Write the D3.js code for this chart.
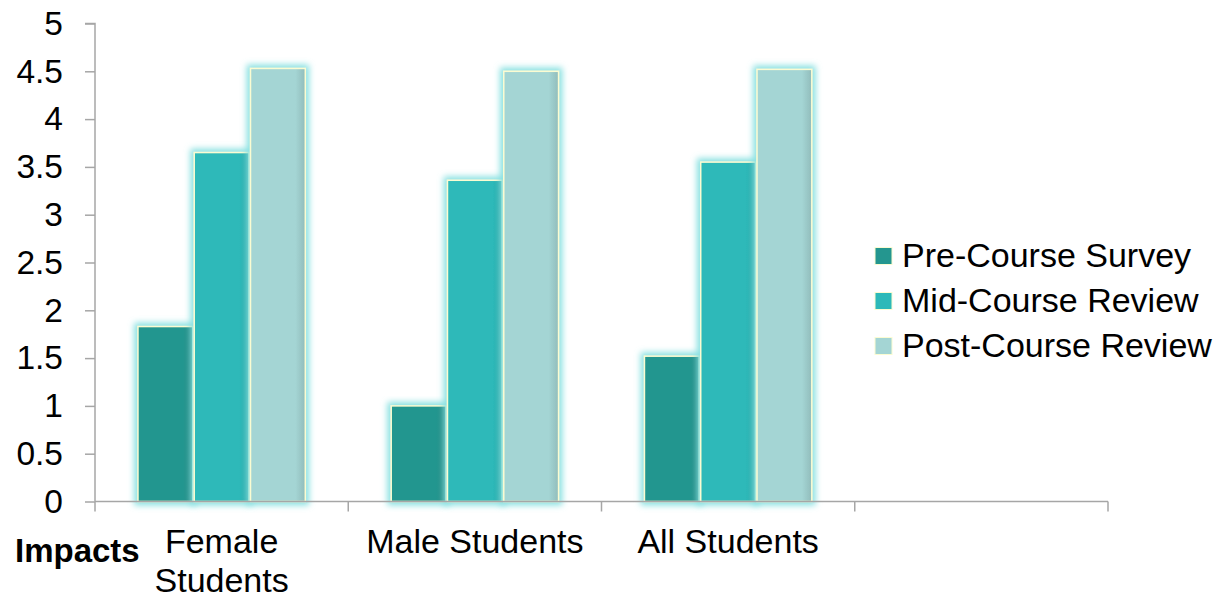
<!DOCTYPE html>
<html>
<head>
<meta charset="utf-8">
<script src="https://cdn.jsdelivr.net/npm/d3@7"></script>
<style>
  html, body { margin: 0; padding: 0; background: #fff; }
  svg { display: block; font-family: "Liberation Sans", Arial, sans-serif; }
</style>
</head>
<body>
<svg id="chart" width="1225" height="599"></svg>
<script>
// ---- data ----
const categories = ["Female Students", "Male Students", "All Students"];
const categoryLines = [["Female", "Students"], ["Male Students"], ["All Students"]];
const series = ["Pre-Course Survey", "Mid-Course Review", "Post-Course Review"];
const preCourse  = [1.83, 1.00, 1.52];
const midCourse  = [3.65, 3.36, 3.55];
const postCourse = [4.53, 4.50, 4.52];
const yTicks = [0, 0.5, 1, 1.5, 2, 2.5, 3, 3.5, 4, 4.5, 5];
const axisTitle = "Impacts";
const colors = ["#24968f", "#2db9b9", "#a4d5d4"];

const values = [preCourse, midCourse, postCourse];

(function () {
// ---- layout ----
const svg = d3.select("#chart");
const mLeft = 95, mRight = 1108, mTop = 23.5, mBottom = 501.5;

const slots = categories.concat(["__empty__"]);
const x0 = d3.scaleBand().domain(slots).range([mLeft, mRight]).paddingInner(0).paddingOuter(0);
const x1 = d3.scaleBand().domain(series).range([0, x0.bandwidth()]).paddingInner(0).paddingOuter(0.75);
const y = d3.scaleLinear().domain([0, 5]).range([mBottom, mTop]);

// defs: glow + gradients
const defs = svg.append("defs");
const f = defs.append("filter").attr("id", "glow")
  .attr("x", "-30%").attr("y", "-10%").attr("width", "160%").attr("height", "120%");
f.append("feMorphology").attr("in", "SourceAlpha").attr("operator", "dilate").attr("radius", 2.5).attr("result", "dil");
f.append("feGaussianBlur").attr("in", "dil").attr("stdDeviation", 3).attr("result", "blur");
f.append("feFlood").attr("flood-color", "#86e0e0").attr("flood-opacity", 1).attr("result", "col");
f.append("feComposite").attr("in", "col").attr("in2", "blur").attr("operator", "in").attr("result", "glowc");
const mg = f.append("feMerge");
mg.append("feMergeNode").attr("in", "glowc");
mg.append("feMergeNode").attr("in", "SourceGraphic");

colors.forEach((c, i) => {
  const g = defs.append("linearGradient").attr("id", "grad" + i)
    .attr("x1", "0").attr("x2", "1").attr("y1", "0").attr("y2", "0");
  g.append("stop").attr("offset", "0").attr("stop-color", c);
  g.append("stop").attr("offset", "0.82").attr("stop-color", c);
  g.append("stop").attr("offset", "1").attr("stop-color", d3.color(c).darker(0.35));
});

// bars
const groups = svg.append("g").selectAll("g")
  .data(categories)
  .join("g")
  .attr("transform", d => `translate(${x0(d)},0)`);

groups.selectAll("rect")
  .data((d, ci) => series.map((s, si) => ({ s, si, v: values[si][ci] })))
  .join("rect")
  .attr("x", d => x1(d.s) + 0.75)
  .attr("y", d => y(d.v))
  .attr("width", x1.bandwidth() - 1.5)
  .attr("height", d => y(0) - y(d.v))
  .attr("fill", d => `url(#grad${d.si})`)
  .attr("stroke", "#fbfcd2")
  .attr("stroke-width", 1.5)
  .attr("filter", "url(#glow)");

// y axis
const yAxis = d3.axisLeft(y).tickValues(yTicks).tickSize(10).tickPadding(22)
  .tickFormat(d => String(d));
const ya = svg.append("g").attr("transform", `translate(${mLeft},0)`).call(yAxis);
ya.select(".domain").attr("stroke", "#a6a6a6").attr("stroke-width", 1.5)
  .attr("d", `M-10,${mTop}H0V${mBottom}`);
ya.selectAll(".tick line").attr("stroke", "#a6a6a6").attr("stroke-width", 1.5);
ya.selectAll(".tick text").attr("fill", "#000").style("font-size", "33.5px")
  .attr("font-family", "Liberation Sans, Arial, sans-serif");

// x axis (ticks between categories)
const xa = svg.append("g");
xa.append("line").attr("x1", mLeft).attr("x2", mRight).attr("y1", y(0)).attr("y2", y(0))
  .attr("stroke", "#a6a6a6").attr("stroke-width", 1.5);
const edges = slots.map(s => x0(s)).concat([x0(slots[slots.length - 1]) + x0.bandwidth()]);
xa.selectAll("line.tk").data(edges).join("line").attr("class", "tk")
  .attr("x1", d => d).attr("x2", d => d).attr("y1", y(0)).attr("y2", y(0) + 10)
  .attr("stroke", "#a6a6a6").attr("stroke-width", 1.5);

const labels = svg.append("g").selectAll("text")
  .data(categories)
  .join("text")
  .attr("x", d => x0(d) + x0.bandwidth() / 2)
  .attr("y", 553)
  .attr("text-anchor", "middle")
  .style("font-size", "34px")
  .attr("fill", "#000");
labels.each(function (d, i) {
  const t = d3.select(this);
  categoryLines[i].forEach((ln, k) => {
    t.append("tspan").attr("x", x0(d) + x0.bandwidth() / 2).attr("dy", k === 0 ? 0 : 39).text(ln);
  });
});

svg.append("text").attr("x", 15).attr("y", 562).text(axisTitle)
  .style("font-size", "33px").style("font-weight", "bold").attr("fill", "#000");

// legend
const lg = svg.append("g").selectAll("g").data(series).join("g")
  .attr("transform", (d, i) => `translate(875,${256 + i * 45})`);
lg.append("rect").attr("x", 0).attr("y", -8.5).attr("width", 17).attr("height", 17)
  .attr("fill", (d, i) => colors[i]).attr("stroke", "#fbfcd2").attr("stroke-width", 1);
lg.append("text").attr("x", 27).attr("y", 11).text(d => d)
  .style("font-size", "34px").attr("fill", "#000");
})();
</script>
</body>
</html>
